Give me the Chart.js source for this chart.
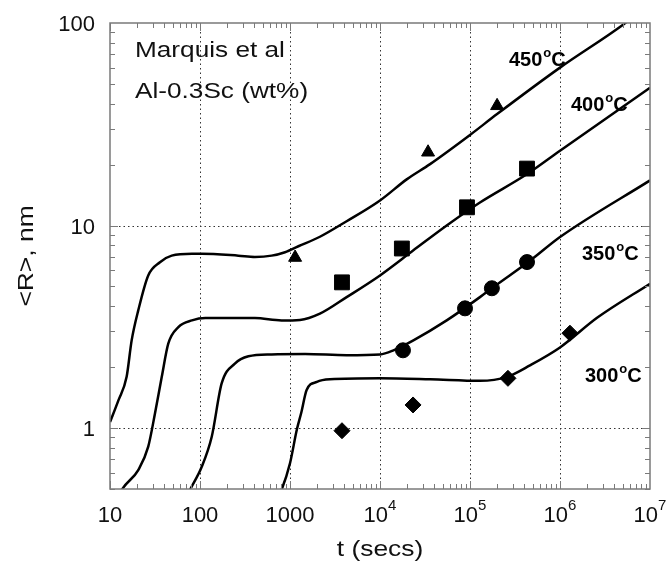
<!DOCTYPE html>
<html>
<head>
<meta charset="utf-8">
<script src="https://cdn.jsdelivr.net/npm/chart.js@4.4.0/dist/chart.umd.min.js"></script>
<style>
  html, body { margin: 0; padding: 0; background: #fff; }
</style>
</head>
<body>
<canvas id="chart" width="667" height="569"></canvas>
<script>
// model curves, t (secs) vs <R> (nm)
const t450 = [10, 12.4, 15.3, 17.4, 20.6, 26.6, 35.9, 48.5, 81.4, 104, 267, 408, 625, 880, 1240, 2150, 4260, 10000, 19800, 36000, 100000, 200000, 1000000, 5060000, 10000000];
const r450 = [1.07, 1.37, 1.79, 2.71, 3.81, 5.67, 6.59, 7.1, 7.25, 7.25, 7.1, 7.0, 7.1, 7.38, 7.9, 8.8, 10.5, 13.3, 16.9, 20.1, 28, 35.5, 60.2, 98.3, 125];

const t400 = [12, 13.5, 20.6, 26.6, 31.6, 37.6, 44.4, 57.5, 81.4, 115, 408, 805, 1290, 2150, 4260, 10000, 23500, 55100, 129000, 427000, 1000000, 10000000];
const r400 = [0.44, 0.495, 0.62, 0.81, 1.18, 1.79, 2.61, 3.15, 3.4, 3.49, 3.49, 3.4, 3.42, 3.67, 4.43, 5.67, 7.54, 10, 12.99, 17.9, 23.4, 47.9];

const t350 = [70, 77.4, 104, 135, 174, 244, 345, 625, 1470, 4260, 10000, 14100, 23500, 55100, 129000, 181000, 464000, 1000000, 10000000];
const r350 = [0.45, 0.495, 0.64, 0.906, 1.66, 2.08, 2.26, 2.31, 2.32, 2.29, 2.31, 2.42, 2.71, 3.4, 4.43, 4.96, 6.7, 8.77, 16.7];

const t300 = [700, 805, 1000, 1190, 1340, 1530, 1990, 2780, 10000, 36000, 129000, 258000, 464000, 1000000, 2580000, 10000000];
const r300 = [0.44, 0.495, 0.67, 0.98, 1.2, 1.54, 1.69, 1.74, 1.76, 1.74, 1.71, 1.79, 2.04, 2.5, 3.5, 5.16];

// measured points (Marquis et al)
const tTri = [1140, 34200, 200000];
const rTri = [6.95, 23, 39];
const tSq = [3780, 17500, 92600, 430000];
const rSq = [5.24, 7.7, 12.3, 19.1];
const tCirc = [18000, 88000, 175000, 430000];
const rCirc = [2.42, 3.9, 4.9, 6.6];
const tDiam = [3780, 23300, 264000, 1290000];
const rDiam = [0.97, 1.3, 1.76, 2.94];

const tempLabels = ['450', '400', '350', '300'];

const xTickValues = [10, 100, 1000, 1e4, 1e5, 1e6, 1e7];
const xTickBase = ['10', '100', '1000', '10', '10', '10', '10'];
const xTickExp = ['', '', '', '4', '5', '6', '7'];
const yTickValues = [1, 10, 100];
const yTickLabels = ['1', '10', '100'];

const FONT = '"Liberation Sans", Arial, sans-serif';

const pts = (xs, ys) => xs.map((x, i) => ({ x: x, y: ys[i] }));

const curve = (xs, ys) => ({
  data: pts(xs, ys),
  showLine: true,
  borderColor: '#000',
  borderWidth: 2.5,
  pointRadius: 0,
  cubicInterpolationMode: 'monotone',
  fill: false
});

const marks = (xs, ys, style, r) => ({
  data: pts(xs, ys),
  showLine: false,
  pointStyle: style,
  pointRadius: r,
  backgroundColor: '#000',
  borderColor: '#000',
  borderWidth: 1
});

function minorValues(lo, hi) {
  const out = [];
  for (let d = Math.pow(10, Math.floor(Math.log10(lo))); d < hi; d *= 10) {
    for (let k = 1; k <= 9; k++) {
      const v = d * k;
      if (v >= lo && v <= hi) out.push({ v: v, major: k === 1 });
    }
  }
  return out;
}

function stretchText(ctx, text, x, y, sx) {
  ctx.save();
  ctx.translate(x, y);
  ctx.scale(sx, 1);
  ctx.fillText(text, 0, 0);
  ctx.restore();
}

function drawTemp(ctx, num, x, base) {
  ctx.textAlign = 'left';
  ctx.font = 'bold 20px ' + FONT;
  ctx.fillText(num, x, base);
  let w = ctx.measureText(num).width;
  ctx.font = 'bold 13px ' + FONT;
  ctx.fillText('o', x + w + 1, base - 9);
  w += ctx.measureText('o').width + 1;
  ctx.font = 'bold 20px ' + FONT;
  ctx.fillText('C', x + w, base);
}

const decor = {
  id: 'decor',
  beforeDatasetsDraw(chart) {
    const { ctx, chartArea: a, scales: { x, y } } = chart;
    ctx.save();
    ctx.strokeStyle = '#333';
    ctx.lineWidth = 1;
    ctx.setLineDash([1.5, 3]);
    xTickValues.slice(1, -1).forEach(v => {
      const px = Math.round(x.getPixelForValue(v)) + 0.5;
      ctx.beginPath(); ctx.moveTo(px, a.top); ctx.lineTo(px, a.bottom); ctx.stroke();
    });
    yTickValues.slice(0, -1).forEach(v => {
      const py = Math.round(y.getPixelForValue(v)) + 0.5;
      ctx.beginPath(); ctx.moveTo(a.left, py); ctx.lineTo(a.right, py); ctx.stroke();
    });
    ctx.restore();
  },
  afterDatasetsDraw(chart) {
    const { ctx, chartArea: a, scales: { x, y } } = chart;
    ctx.save();
    // frame + ticks
    ctx.strokeStyle = '#7a7a7a';
    ctx.lineWidth = 1.5;
    ctx.strokeRect(a.left, a.top, a.right - a.left, a.bottom - a.top);
    ctx.lineWidth = 1;
    minorValues(10, 1e7).forEach(m => {
      const px = Math.round(x.getPixelForValue(m.v)) + 0.5;
      const len = m.major ? 8 : 5;
      ctx.beginPath();
      ctx.moveTo(px, a.bottom); ctx.lineTo(px, a.bottom - len);
      ctx.moveTo(px, a.top); ctx.lineTo(px, a.top + len);
      ctx.stroke();
    });
    minorValues(0.5, 100).forEach(m => {
      const py = Math.round(y.getPixelForValue(m.v)) + 0.5;
      const len = m.major ? 8 : 5;
      ctx.beginPath();
      ctx.moveTo(a.left, py); ctx.lineTo(a.left + len, py);
      ctx.moveTo(a.right, py); ctx.lineTo(a.right - len, py);
      ctx.stroke();
    });

    // tick labels
    ctx.fillStyle = '#111';
    ctx.textBaseline = 'alphabetic';
    ctx.font = '22px ' + FONT;
    ctx.textAlign = 'right';
    yTickValues.forEach((v, i) => {
      ctx.fillText(yTickLabels[i], a.left - 15, y.getPixelForValue(v) + 8);
    });
    ctx.textAlign = 'left';
    xTickValues.forEach((v, i) => {
      const px = x.getPixelForValue(v);
      ctx.font = '22px ' + FONT;
      const wb = ctx.measureText(xTickBase[i]).width;
      ctx.font = '15px ' + FONT;
      const we = xTickExp[i] ? ctx.measureText(xTickExp[i]).width : 0;
      const x0 = px - (wb + we) / 2;
      ctx.font = '22px ' + FONT;
      ctx.fillText(xTickBase[i], x0, 522);
      if (xTickExp[i]) {
        ctx.font = '15px ' + FONT;
        ctx.fillText(xTickExp[i], x0 + wb, 510);
      }
    });

    // axis titles
    ctx.font = '22px ' + FONT;
    ctx.textAlign = 'center';
    stretchText(ctx, 't (secs)', 380, 556, 1.2);
    ctx.save();
    ctx.translate(33, 256);
    ctx.rotate(-Math.PI / 2);
    stretchText(ctx, '<R>, nm', 0, 0, 1.2);
    ctx.restore();

    // annotation
    ctx.textAlign = 'left';
    stretchText(ctx, 'Marquis et al', 135, 57, 1.19);
    stretchText(ctx, 'Al-0.3Sc (wt%)', 135, 98, 1.19);

    ctx.fillStyle = '#000';
    drawTemp(ctx, tempLabels[0], 509, 66);
    drawTemp(ctx, tempLabels[1], 571, 111);
    drawTemp(ctx, tempLabels[2], 582, 260);
    drawTemp(ctx, tempLabels[3], 585, 382);
    ctx.restore();
  }
};

new Chart(document.getElementById('chart').getContext('2d'), {
  type: 'scatter',
  data: {
    datasets: [
      curve(t450, r450),
      curve(t400, r400),
      curve(t350, r350),
      curve(t300, r300),
      marks(tTri, rTri, 'triangle', 7.5),
      marks(tSq, rSq, 'rect', 10.5),
      marks(tCirc, rCirc, 'circle', 7.5),
      marks(tDiam, rDiam, 'rectRot', 8)
    ]
  },
  options: {
    responsive: false,
    animation: false,
    layout: { padding: { left: 110, top: 23, right: 17, bottom: 80 } },
    plugins: { legend: { display: false }, tooltip: { enabled: false } },
    scales: {
      x: { type: 'logarithmic', min: 10, max: 1e7, display: false },
      y: { type: 'logarithmic', min: 0.5, max: 100, display: false }
    }
  },
  plugins: [decor]
});
</script>
</body>
</html>
